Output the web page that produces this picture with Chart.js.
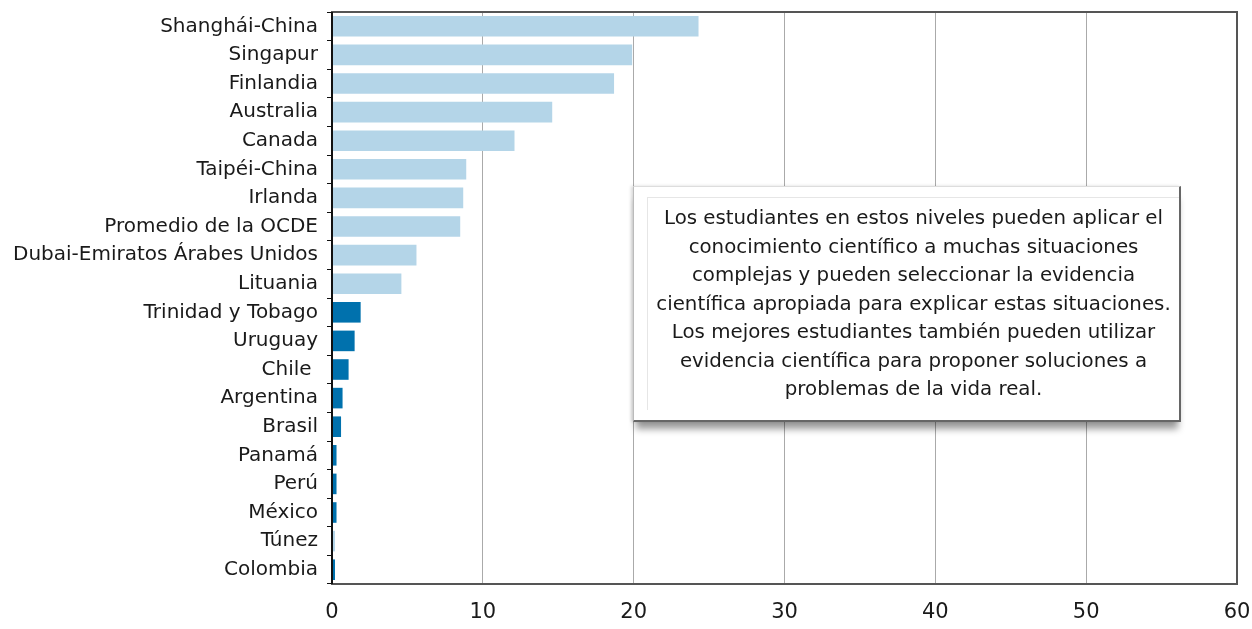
<!DOCTYPE html>
<html><head><meta charset="utf-8">
<script src="https://cdn.jsdelivr.net/npm/chart.js@4.4.1/dist/chart.umd.min.js"></script>
<style>
html,body{margin:0;padding:0;background:#fff;}
#wrap{position:relative;width:1252px;height:629px;}
#note{position:absolute;left:633px;top:186px;width:548px;height:236px;background:#fff;box-sizing:border-box;
border-left:1px solid #bbb;border-top:1px solid #ddd;border-right:2px solid #666;border-bottom:2px solid #666;
box-shadow:-2px 0 3px rgba(0,0,0,0.15),0 10px 7px -3px rgba(0,0,0,0.4);}
#inner{position:absolute;left:13px;top:10px;right:0;bottom:10px;border-left:1px solid #e6e6e6;border-top:1px solid #e6e6e6;
font-family:"DejaVu Sans",sans-serif;font-size:19.8px;line-height:28.5px;color:#1a1a1a;text-align:center;padding-top:6px;white-space:nowrap;}
</style></head>
<body><div id="wrap"><canvas id="c" width="1252" height="629"></canvas>
<div id="note"><div id="inner">Los estudiantes en estos niveles pueden aplicar el<br>conocimiento científico a muchas situaciones<br>complejas y pueden seleccionar la evidencia<br>científica apropiada para explicar estas situaciones.<br>Los mejores estudiantes también pueden utilizar<br>evidencia científica para proponer soluciones a<br>problemas de la vida real.</div></div></div>
<script>
const categories = ["Shanghái-China","Singapur","Finlandia","Australia","Canada","Taipéi-China","Irlanda","Promedio de la OCDE","Dubai-Emiratos Árabes Unidos","Lituania","Trinidad y Tobago","Uruguay","Chile ","Argentina","Brasil","Panamá","Perú","México","Túnez","Colombia"];
const values = [24.3,19.9,18.7,14.6,12.1,8.9,8.7,8.5,5.6,4.6,1.9,1.5,1.1,0.7,0.6,0.3,0.3,0.3,0.2,0.2];
const highlight = [false,false,false,false,false,false,false,false,false,false,true,true,true,true,true,true,true,true,false,true];
const xTicks = [0,10,20,30,40,50,60];
const LIGHT = "#b4d5e8", DARK = "#0071ad";
const FONT = "'DejaVu Sans', sans-serif";

const frame = {
  id:"frame",
  afterDraw(chart){
    const a = chart.chartArea, ctx = chart.ctx;
    ctx.save();
    ctx.strokeStyle = "#555"; ctx.lineWidth = 2;
    ctx.strokeRect(a.left, a.top, a.right - a.left, a.bottom - a.top);
    ctx.strokeStyle = "#111"; ctx.lineWidth = 2;
    ctx.beginPath(); ctx.moveTo(a.left, a.top); ctx.lineTo(a.left, a.bottom); ctx.stroke();
    ctx.restore();
  }
};

new Chart(document.getElementById("c"), {
  type:"bar",
  data:{labels:categories, datasets:[{data:values,
    backgroundColor:values.map((v,i)=>highlight[i]?DARK:LIGHT),
    categoryPercentage:1, barPercentage:0.72}]},
  options:{
    indexAxis:"y", responsive:false, animation:false,
    layout:{padding:{top:12,right:15,left:0,bottom:0}},
    plugins:{legend:{display:false}, tooltip:{enabled:false}},
    scales:{
      x:{min:0,max:60,afterBuildTicks(s){s.ticks = xTicks.map(v=>({value:v}));},
        grid:{color:"#aaa",lineWidth:1,drawTicks:false},
        border:{display:false},
        ticks:{color:"#1a1a1a",font:{family:FONT,size:21},padding:16},
        afterFit(s){s.height = 45; s.paddingLeft = 0; s.paddingRight = 0;}
      },
      y:{offset:true,
        grid:{drawOnChartArea:false,color:"#111",tickLength:5,offset:true},
        border:{display:false},
        ticks:{color:"#1a1a1a",font:{family:FONT,size:20},padding:9,autoSkip:false},
        afterFit(s){s.width = 332; s.paddingTop = 0; s.paddingBottom = 0;}
      }
    }
  },
  plugins:[frame]
});
</script></body></html>
